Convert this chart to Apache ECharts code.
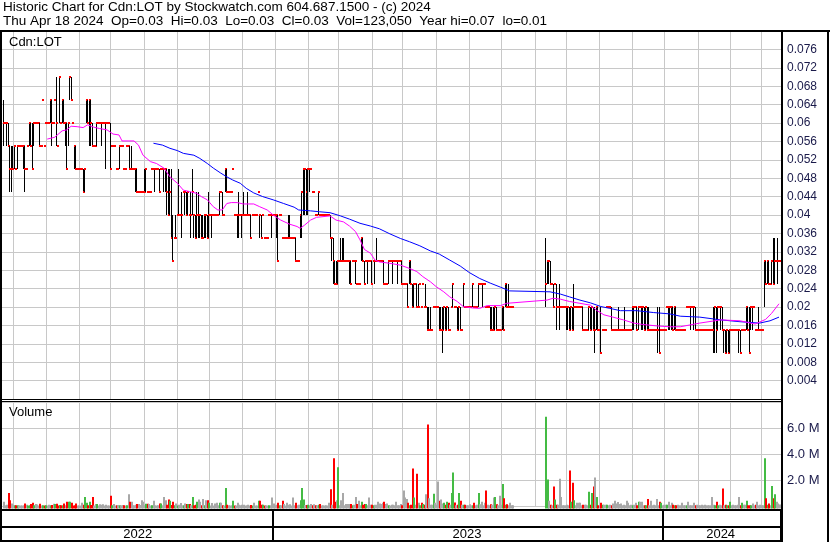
<!DOCTYPE html>
<html><head><meta charset="utf-8">
<script src="https://cdn.jsdelivr.net/npm/echarts@6/dist/echarts.min.js"></script>
<style>html,body{margin:0;padding:0;background:#fff}#c{width:830px;height:543px}</style>
</head><body><div id="c"></div>
<script>
// ---- data (one entry per weekday slot, 2022-04-25 .. 2024-04-18) ----
const firstDay = '2022-04-25';
const titleLine1 = 'Historic Chart for Cdn:LOT by Stockwatch.com 604.687.1500 - (c) 2024';
const titleLine2 = 'Thu Apr 18 2024  Op=0.03  Hi=0.03  Lo=0.03  Cl=0.03  Vol=123,050  Year hi=0.07  lo=0.01';
const symbolLabel = 'Cdn:LOT';
const volumeLabel = 'Volume';

const high = [
.065,.06,.06,.06,.055,.055,.055,.055,.05,.055,
.055,.055,.055,.055,.055,.05,.055,.06,.06,.06,
.06,.06,.06,.06,.06,.055,.065,.055,.06,.06,
.06,.065,.065,.06,.065,.07,.055,.07,.06,.065,
.065,.06,.06,.06,.07,.07,.06,.055,.055,.05,
.05,.05,.05,.05,.05,.065,.065,.065,.065,.06,
.055,.055,.06,.06,.06,.06,.06,.06,.06,.06,
.06,.06,.055,.055,.055,.05,.05,.055,.055,.055,
.05,.05,.055,.055,.055,.055,.05,.05,.05,.05,
.045,.045,.045,.045,.05,.05,.045,.045,.045,.05,
.05,.05,.05,.05,.05,.05,.05,.05,.05,.05,
.05,.05,.05,.04,.035,.04,.04,.05,.04,.045,
.045,.045,.045,.045,.04,.045,.05,.04,.04,.045,
.045,.04,.04,.04,.04,.04,.04,.045,.04,.04,
.04,.04,.04,.04,.045,.045,.045,.04,.05,.05,
.045,.045,.045,.05,.04,.04,.04,.045,.04,.04,
.045,.04,.04,.045,.04,.04,.04,.04,.04,.04,
.045,.04,.04,.04,.035,.035,.035,.04,.04,.04,
.04,.04,.04,.04,.04,.04,.035,.035,.035,.035,
.04,.04,.035,.035,.035,.035,.03,.03,.04,.045,
.05,.05,.05,.05,.05,.05,.045,.045,.04,.04,
.045,.04,.04,.04,.04,.04,.04,.04,.04,.035,
.035,.03,.03,.03,.03,.035,.035,.035,.03,.03,
.03,.03,.03,.03,.03,.03,.025,.025,.025,.035,
.035,.03,.03,.03,.03,.03,.03,.03,.03,.035,
.03,.03,.03,.03,.03,.025,.025,.03,.03,.03,
.03,.03,.03,.03,.03,.03,.03,.025,.025,.025,
.025,.03,.03,.025,.025,.025,.025,.025,.025,.02,
.025,.02,.025,.02,.02,.02,.015,.02,.02,.02,
.02,.02,.02,.02,.02,.02,.02,.02,.015,.02,
.025,.02,.02,.02,.02,.02,.015,.025,.02,.02,
.02,.02,.02,.025,.02,.02,.02,.025,.025,.025,
.025,.025,.02,.02,.02,.02,.02,.02,.02,.02,
.015,.015,.015,.02,.02,.025,.025,.025,.02,.02,
.02,
null,null,null,null,null,null,null,null,null,null,null,null,null,null,null,null,null,null,null,null,null,
.035,.03,.03,.03,.025,.025,.025,.025,
.02,.025,.02,.02,.02,.02,.02,.02,.02,.02,
.02,.025,.02,.02,.02,.02,.02,.02,.015,.015,
.015,.02,.02,.02,.02,.02,.02,.02,.015,.02,
.015,.015,.015,.02,.02,.02,.02,.015,.015,.015,
.015,.02,.015,.015,.015,.02,.015,.015,.015,.015,
.02,.02,.02,.02,.02,.02,.02,.02,.02,.02,
.02,.02,.015,.015,.015,.015,.015,.02,.02,.015,
.015,.015,.015,.02,.02,.02,.02,.02,.02,.02,
.015,.015,.015,.015,.015,.015,.02,.02,.02,.02,
.02,.02,.02,.015,.015,.015,.015,.015,.015,.015,
.015,.015,.015,.015,.02,.02,.02,.02,.02,.02,
.02,.015,.015,.015,.015,.015,.015,.015,.015,.015,
.015,.015,.015,.015,.015,.015,.02,.02,.02,.02,
.02,.02,.015,.015,.02,.015,.015,.015,.03,.03,
.03,.03,.025,.03,.035,.035,.03,.035,.03
];
const low = [
.055,.06,.055,.055,.045,.045,.05,.05,.05,.05,
.055,.055,.055,.05,.045,.05,.055,.055,.055,.05,
.055,.06,.06,.06,.055,.055,.065,.055,.06,.06,
.06,.06,.055,.06,.065,.055,.055,.06,.06,.06,
.06,.055,.05,.055,.065,.065,.06,.05,.05,.05,
.05,.05,.05,.045,.045,.06,.06,.055,.055,.055,
.055,.055,.055,.06,.06,.055,.06,.06,.05,.06,
.06,.05,.055,.055,.055,.05,.05,.05,.055,.055,
.05,.05,.055,.055,.05,.05,.05,.05,.045,.045,
.045,.045,.045,.045,.045,.045,.045,.045,.045,.05,
.05,.045,.05,.05,.045,.05,.05,.045,.045,.04,
.04,.04,.035,.03,.035,.035,.04,.04,.04,.035,
.045,.04,.04,.04,.04,.035,.04,.035,.035,.035,
.035,.035,.035,.035,.035,.035,.035,.035,.04,.035,
.04,.04,.04,.04,.04,.045,.04,.04,.045,.045,
.045,.045,.045,.05,.04,.04,.035,.035,.04,.035,
.04,.04,.04,.04,.04,.035,.04,.04,.04,.04,
.045,.035,.035,.04,.035,.035,.035,.04,.04,.035,
.04,.04,.035,.03,.04,.04,.035,.035,.035,.035,
.035,.035,.035,.035,.035,.03,.03,.03,.035,.035,
.04,.04,.04,.04,.045,.05,.045,.045,.04,.04,
.04,.04,.04,.04,.04,.04,.04,.04,.035,.03,
.025,.025,.025,.025,.03,.03,.03,.03,.03,.03,
.03,.025,.025,.03,.03,.025,.025,.025,.025,.03,
.03,.025,.03,.025,.03,.03,.025,.03,.025,.03,
.03,.03,.03,.03,.025,.025,.025,.025,.03,.03,
.025,.03,.03,.025,.03,.03,.025,.025,.025,.025,
.02,.025,.025,.02,.02,.025,.02,.02,.025,.02,
.025,.02,.02,.015,.015,.015,.015,.02,.02,.02,
.02,.015,.015,.01,.015,.015,.015,.015,.015,.02,
.02,.02,.02,.015,.015,.015,.015,.02,.02,.02,
.02,.02,.02,.02,.02,.02,.02,.02,.025,.025,
.02,.025,.02,.02,.02,.015,.015,.015,.015,.015,
.015,.015,.015,.015,.015,.02,.02,.02,.02,.02,
.02,
null,null,null,null,null,null,null,null,null,null,null,null,null,null,null,null,null,null,null,null,null,
.02,.025,.025,.025,.025,.02,.025,.015,
.02,.015,.02,.02,.02,.02,.015,.015,.015,.015,
.015,.015,.02,.02,.02,.02,.02,.015,.015,.015,
.015,.015,.015,.015,.015,.01,.015,.015,.015,.01,
.015,.015,.015,.02,.02,.02,.015,.015,.015,.015,
.015,.015,.015,.015,.015,.015,.015,.015,.015,.015,
.015,.015,.02,.015,.015,.02,.015,.015,.015,.015,
.015,.015,.015,.015,.015,.015,.015,.01,.01,.015,
.015,.015,.015,.02,.015,.015,.015,.015,.015,.015,
.015,.015,.015,.015,.015,.015,.02,.02,.02,.015,
.02,.015,.015,.015,.015,.015,.015,.015,.015,.015,
.015,.015,.015,.015,.01,.01,.01,.015,.02,.015,
.015,.01,.01,.01,.01,.01,.015,.015,.015,.015,
.015,.01,.01,.015,.015,.015,.015,.015,.01,.015,
.015,.02,.015,.015,.015,.015,.015,.015,.02,.025,
.025,.025,.025,.025,.025,.025,.03,.025,.03
];
const close = [
.06,.06,.06,.055,.05,.05,.05,.055,.05,.055,
.055,.055,.055,.055,.05,.05,.055,.06,.055,.05,
.06,.06,.06,.06,.055,.055,.065,.055,.06,.06,
.06,.065,.06,.06,.065,.06,.055,.07,.06,.065,
.06,.06,.05,.06,.07,.065,.06,.055,.05,.05,
.05,.05,.05,.045,.05,.065,.06,.065,.06,.055,
.055,.055,.06,.06,.06,.06,.06,.06,.06,.06,
.06,.05,.055,.055,.055,.05,.05,.055,.055,.055,
.05,.05,.055,.055,.05,.05,.05,.05,.05,.045,
.045,.045,.045,.045,.045,.05,.045,.045,.045,.05,
.05,.05,.05,.05,.045,.05,.05,.05,.05,.045,
.04,.045,.035,.03,.035,.035,.04,.04,.04,.04,
.045,.045,.04,.045,.04,.04,.045,.04,.035,.04,
.04,.04,.035,.035,.04,.04,.035,.04,.04,.04,
.04,.04,.04,.04,.045,.045,.04,.04,.05,.045,
.045,.045,.045,.05,.04,.04,.04,.04,.04,.04,
.04,.04,.04,.04,.04,.035,.04,.04,.04,.04,
.045,.04,.035,.04,.035,.035,.035,.04,.04,.04,
.04,.04,.04,.03,.04,.04,.035,.035,.035,.035,
.035,.035,.035,.035,.035,.03,.03,.03,.04,.045,
.05,.05,.045,.05,.05,.05,.045,.045,.04,.04,
.045,.04,.04,.04,.04,.04,.04,.04,.035,.035,
.03,.025,.025,.03,.03,.03,.03,.03,.03,.03,
.03,.03,.025,.03,.03,.03,.025,.025,.025,.035,
.03,.025,.03,.03,.03,.03,.025,.03,.03,.03,
.03,.03,.03,.03,.025,.025,.025,.03,.03,.03,
.03,.03,.03,.03,.03,.03,.025,.025,.025,.025,
.02,.03,.025,.02,.025,.025,.02,.02,.025,.02,
.025,.02,.02,.015,.015,.015,.015,.02,.02,.02,
.02,.015,.015,.015,.02,.015,.02,.015,.015,.02,
.025,.02,.02,.015,.02,.015,.015,.025,.02,.02,
.02,.02,.02,.025,.02,.02,.02,.025,.025,.025,
.025,.025,.02,.02,.02,.015,.015,.015,.02,.015,
.015,.015,.015,.02,.015,.025,.02,.02,.02,.02,
.02,
null,null,null,null,null,null,null,null,null,null,null,null,null,null,null,null,null,null,null,null,null,
.025,.03,.03,.025,.025,.02,.025,.02,
.02,.02,.02,.02,.02,.02,.02,.02,.015,.02,
.015,.02,.02,.02,.02,.02,.02,.015,.015,.015,
.015,.02,.015,.02,.015,.015,.02,.015,.015,.01,
.015,.015,.015,.02,.02,.02,.015,.015,.015,.015,
.015,.015,.015,.015,.015,.015,.015,.015,.015,.015,
.02,.02,.02,.015,.02,.02,.02,.02,.015,.02,
.015,.015,.015,.015,.015,.015,.015,.015,.01,.015,
.015,.015,.015,.02,.02,.02,.02,.015,.02,.015,
.015,.015,.015,.015,.015,.015,.02,.02,.02,.02,
.02,.02,.015,.015,.015,.015,.015,.015,.015,.015,
.015,.015,.015,.015,.015,.02,.015,.02,.02,.02,
.015,.015,.01,.015,.01,.015,.015,.015,.015,.015,
.015,.015,.01,.015,.015,.015,.02,.015,.01,.02,
.02,.02,.015,.015,.015,.015,.015,.015,.03,.025,
.03,.025,.025,.03,.025,.03,.03,.03,.03
];
// volume in millions of shares
const volume = [
.33,.05,.1,1.0,.45,.2,.1,.05,.05,.05,
.05,.03,.03,.05,.2,.1,.03,.05,.15,.25,
.05,.15,.12,.03,.18,.03,.05,.03,.05,.03,
.1,.05,.08,.18,.15,.18,.03,.08,.05,.05,
.2,.05,.33,.33,.33,.25,.03,.05,.2,.03,
.03,.03,.25,.1,.7,.25,.05,.33,.08,.7,
.03,.15,.15,.03,.13,.1,.13,.03,.1,.03,
.03,.8,.05,.15,.03,.05,.08,.05,.05,.08,
.05,.03,.05,.9,.33,.33,.03,.05,.1,.15,
.15,.08,.45,.33,.05,.18,.18,.15,.03,.05,
.4,.05,.03,.05,.2,.2,.05,.7,.45,.1,
.5,.4,.08,.33,.05,.2,.03,.1,.23,.05,
.05,.2,.15,.15,.15,.05,.7,.05,.1,.33,
.5,.33,.05,.55,.05,.45,.45,.25,.03,.23,
.03,.2,.25,.05,.25,.25,.05,.03,1.4,.1,
.05,.03,.05,.4,.03,.03,.25,.1,.05,.1,
.1,.03,.05,.1,.03,.08,.03,.25,.03,.03,
.4,.4,.1,.1,.03,.05,.03,.05,.05,.65,
.2,.05,.1,.25,.05,.05,.4,.15,.03,.25,
.1,.13,.03,.65,.05,.25,.05,.1,.45,1.4,
.5,.08,.08,.1,.05,.15,.05,.13,.05,.05,
.1,.15,.03,.05,.03,.05,.03,.25,1.3,.1,
3.7,.33,.45,3.0,.05,.45,1.0,.05,.15,.15,
.15,.15,.15,.05,.1,.7,.15,.4,.05,.33,
.1,.15,.15,.05,.65,.1,.1,.05,.1,.1,
.33,.2,.15,.25,.33,.15,.2,.05,.03,.1,
.1,.05,.33,.05,.05,.15,.05,1.2,.65,.55,
.25,.05,.1,2.9,.65,.1,2.5,.25,.05,.25,
.15,.1,.9,6.3,.6,.1,.1,.95,.25,.1,
1.9,.4,.5,.2,.25,.1,.33,.25,.1,1.0,
2.6,.28,.05,.1,1.0,.4,.1,.1,.1,.05,
.05,.13,.05,.05,.25,.05,.1,1.0,.13,.33,
.05,.25,1.2,.1,.05,.13,.1,.65,.7,.13,
.05,.8,.1,1.7,.6,.1,.13,.05,.25,.05,
.05,
null,null,null,null,null,null,null,null,null,null,null,null,null,null,null,null,null,null,null,null,null,
6.9,2.05,.4,.1,.05,1.5,.5,.1,
.1,2.1,.7,.05,.05,.05,.1,.05,2.75,.33,
1.8,.45,.05,.25,.25,.25,.05,.1,.1,.1,
.05,1.1,.1,1.0,1.5,2.2,.7,.05,.05,.25,
.1,.1,.1,.1,.05,.1,.05,.2,.4,.2,
.3,.15,.2,.05,.1,.05,.4,.25,.05,.1,
.05,.1,.25,.05,.33,.33,.33,.05,.05,.05,
.55,.05,.4,.05,.1,.05,.55,.05,.33,.25,
.05,.1,.1,.1,.33,.05,.25,.1,.05,.05,
.1,.05,.05,.25,.05,.05,.05,.33,.05,.05,
.05,.25,.05,.1,.05,.05,.1,.05,.1,.05,
.05,.05,.05,.7,.1,.05,.33,.05,.1,.05,
1.35,.05,.1,.05,.05,.33,.05,.1,.05,.05,
.1,.7,.05,.25,.1,.1,.4,.05,.05,.05,
.2,.05,.1,.33,.05,.1,.05,.05,3.7,.6,
.1,.2,.05,1.55,.6,.9,.33,.2,.123
];
// moving averages: [slot, value]
const maShort = [[29,.0565],[34,.0569],[39,.0583],[42,.0585],[45,.0593],[49,.0592],[53,.0590],[56,.0596],[60,.0591],[64,.0588],[69,.0585],[73,.0576],[77,.0574],[79,.0561],[87,.0561],[90,.0552],[93,.0530],[98,.0516],[102,.0512],[107,.0502],[111,.0483],[116,.0469],[120,.0454],[124,.0451],[129,.0447],[132,.0440],[136,.0433],[140,.0418],[143,.0411],[146,.0411],[149,.0425],[152,.0427],[156,.0427],[160,.0424],[167,.0424],[171,.0418],[176,.0411],[180,.0400],[185,.0389],[191,.0380],[196,.0375],[198,.0371],[201,.0378],[205,.0389],[209,.0395],[218,.0398],[222,.0389],[227,.0385],[231,.0376],[235,.0364],[238,.0346],[241,.0325],[245,.0317],[248,.0302],[251,.0298],[258,.0295],[265,.0291],[271,.0284],[276,.0277],[280,.0266],[285,.0255],[289,.0244],[294,.0233],[298,.0222],[303,.0212],[307,.0201],[313,.0198],[318,.0197],[323,.0203],[332,.0203],[336,.0208],[363,.0215],[367,.0219],[372,.0217],[378,.0212],[385,.0208],[392,.0204],[396,.0193],[401,.0183],[407,.0178],[414,.0172],[421,.0165],[427,.0162],[436,.0159],[445,.0157],[452,.0157],[465,.0165],[479,.0172],[492,.0170],[502,.0163],[509,.0173],[513,.0186],[518,.0207]];
const maLong = [[100,.0556],[106,.0552],[111,.0545],[116,.0540],[120,.0534],[127,.0530],[131,.0523],[136,.0512],[140,.0502],[145,.0491],[149,.0483],[153,.0476],[158,.0469],[162,.0458],[167,.0448],[173,.0440],[180,.0433],[187,.0425],[194,.0417],[197,.0411],[205,.0409],[211,.0407],[218,.0405],[225,.0398],[231,.0391],[238,.0382],[245,.0376],[251,.0370],[258,.0359],[265,.0349],[271,.0342],[278,.0333],[285,.0322],[291,.0315],[298,.0302],[305,.0289],[311,.0275],[318,.0262],[325,.0252],[332,.0243],[338,.0235],[365,.0233],[372,.0228],[378,.0222],[385,.0215],[392,.0209],[399,.0201],[405,.0197],[412,.0192],[423,.0192],[434,.0188],[445,.0185],[452,.0180],[465,.0178],[479,.0172],[492,.0168],[505,.0165],[512,.0170],[518,.0178]];
const priceTicks = {min: 0, max: 0.08, step: 0.004};
const volumeTicks = {min: 0, max: 8, step: 2};

// ---- derived structures ----
const dates = [];
{ const d = new Date(firstDay + 'T00:00:00Z');
  while (dates.length < high.length) { const w = d.getUTCDay(); if (w !== 0 && w !== 6) dates.push(new Date(d)); d.setUTCDate(d.getUTCDate() + 1); } }
const monthStarts = [], years = [];
dates.forEach((d, i) => {
  if (i > 0 && d.getUTCMonth() !== dates[i - 1].getUTCMonth()) monthStarts.push(i);
  if (i === 0 || d.getUTCFullYear() !== dates[i - 1].getUTCFullYear()) years.push({start: i, label: String(d.getUTCFullYear())});
});
const yearData = years.map((y, k) => [y.start - 0.5, (k < years.length - 1 ? years[k + 1].start : dates.length) - 0.5, y.label]);
const bars = [], vols = [];
let prevClose = null;
for (let i = 0; i < high.length; i++) {
  if (high[i] == null) continue;
  bars.push([i, high[i], low[i], close[i]]);
  const dir = prevClose == null ? 0 : Math.sign(close[i] - prevClose);
  vols.push([i, volume[i], dir]);
  prevClose = close[i];
}

const XMIN = -1.2, XMAX = 520;
const GRID = '#c8c8c8', LABEL = '#1a1a4a';
const FONT = '"Liberation Sans", Arial, sans-serif';

function renderBar(params, api) {
  const i = api.value(0), h = api.value(1), l = api.value(2), c = api.value(3);
  const pH = api.coord([i, h]), pL = api.coord([i, l]), pC = api.coord([i, c]);
  const x = Math.floor(pH[0]);
  const ch = [];
  const y0 = Math.round(pH[1]), y1 = Math.round(pL[1]);
  if (y1 - y0 > 0) ch.push({type: 'rect', shape: {x: x, y: y0, width: 1, height: y1 - y0}, style: {fill: '#000'}});
  ch.push({type: 'rect', shape: {x: x, y: Math.round(pC[1]) - 1, width: 2, height: 2}, style: {fill: '#ff0000'}});
  return {type: 'group', children: ch};
}
function renderVol(params, api) {
  const i = api.value(0), v = api.value(1), dir = api.value(2);
  const p0 = api.coord([i, 0]), pv = api.coord([i, v]);
  const x = Math.floor(p0[0]);
  const base = p0[1] + 2.5;
  return {type: 'rect', shape: {x: x, y: pv[1], width: 2, height: base - pv[1]},
    style: {fill: dir > 0 ? '#44bb44' : (dir < 0 ? '#ff0000' : '#a8a8a8')}};
}
function renderVGrid(params, api) {
  const cs = params.coordSys;
  const x = Math.round(api.coord([api.value(0) + 1, 0])[0]);
  return {type: 'rect', shape: {x: x, y: cs.y, width: 1, height: cs.height}, style: {fill: GRID}, silent: true};
}
function renderYears(params, api) {
  const cs = params.coordSys;
  const a = api.coord([api.value(0), 0])[0], b = api.coord([api.value(1), 0])[0];
  const x0 = Math.max(a, cs.x), x1 = Math.min(b, cs.x + cs.width);
  const ch = [{type: 'text', style: {text: api.value(2), x: (x0 + x1) / 2, y: cs.y + 24, align: 'center', verticalAlign: 'middle', font: '13px ' + FONT, fill: '#000'}}];
  if (b < cs.x + cs.width - 1) ch.push({type: 'rect', shape: {x: Math.round(b), y: cs.y, width: 2, height: cs.height}, style: {fill: '#000'}});
  return {type: 'group', children: ch};
}

const chart = echarts.init(document.getElementById('c'), null, {renderer: 'canvas'});
const xAx = (gi) => ({type: 'value', gridIndex: gi, min: XMIN, max: XMAX, show: false});
chart.setOption({
  animation: false,
  backgroundColor: '#fff',
  grid: [
    {left: 2, right: 48, top: 31, height: 368, outerBoundsMode: 'none'},
    {left: 2, right: 48, top: 402.6, height: 103.4, outerBoundsMode: 'none'},
    {left: 2, right: 48, top: 510, height: 31, outerBoundsMode: 'none'}
  ],
  xAxis: [xAx(0), xAx(1), xAx(2)],
  yAxis: [
    {type: 'value', gridIndex: 0, position: 'right', min: priceTicks.min, max: priceTicks.max, interval: priceTicks.step,
     axisLine: {show: false}, axisTick: {show: false},
     axisLabel: {margin: 5, color: LABEL, fontSize: 12, fontFamily: FONT,
       formatter: v => (v <= 0.0001 || v >= priceTicks.max - 0.0001) ? '' : String(+v.toFixed(3))},
     splitLine: {lineStyle: {color: GRID, width: 1}}},
    {type: 'value', gridIndex: 1, position: 'right', min: volumeTicks.min, max: volumeTicks.max, interval: volumeTicks.step,
     axisLine: {show: false}, axisTick: {show: false},
     axisLabel: {margin: 5, color: LABEL, fontSize: 13, fontFamily: FONT,
       formatter: v => (v <= 0 || v >= volumeTicks.max) ? '' : v.toFixed(1) + ' M'},
     splitLine: {lineStyle: {color: GRID, width: 1}}},
    {type: 'value', gridIndex: 2, min: 0, max: 1, show: false}
  ],
  series: [
    {type: 'custom', name: 'mgrid0', xAxisIndex: 0, yAxisIndex: 0, data: monthStarts, renderItem: renderVGrid, z: 1, silent: true},
    {type: 'custom', name: 'mgrid1', xAxisIndex: 1, yAxisIndex: 1, data: monthStarts, renderItem: renderVGrid, z: 1, silent: true},
    {type: 'custom', name: 'price', xAxisIndex: 0, yAxisIndex: 0, data: bars, renderItem: renderBar, z: 3, clip: true},
    {type: 'line', name: 'maLong', xAxisIndex: 0, yAxisIndex: 0, data: maLong, showSymbol: false, symbol: 'none',
     lineStyle: {color: '#0000ff', width: 1}, z: 4, silent: true},
    {type: 'line', name: 'maShort', xAxisIndex: 0, yAxisIndex: 0, data: maShort, showSymbol: false, symbol: 'none',
     lineStyle: {color: '#ff00ff', width: 1}, z: 5, silent: true},
    {type: 'custom', name: 'volume', xAxisIndex: 1, yAxisIndex: 1, data: vols, renderItem: renderVol, z: 3},
    {type: 'custom', name: 'years', xAxisIndex: 2, yAxisIndex: 2, data: yearData, renderItem: renderYears, z: 3}
  ],
  graphic: [
    {type: 'text', left: 3, top: 0, style: {text: titleLine1, font: '13.5px ' + FONT, fill: '#000'}},
    {type: 'text', left: 3, top: 14, style: {text: titleLine2, font: '13.5px ' + FONT, fill: '#000'}},
    {type: 'text', left: 9, top: 36, z: 10, style: {text: symbolLabel, font: '13px ' + FONT, fill: '#000'}},
    {type: 'text', left: 9, top: 406, z: 10, style: {text: volumeLabel, font: '13px ' + FONT, fill: '#000'}},
    // frame
    {type: 'rect', z: 20, shape: {x: 0, y: 30, width: 830, height: 2}, style: {fill: '#000'}},
    {type: 'rect', z: 20, shape: {x: 0, y: 30, width: 2, height: 512}, style: {fill: '#000'}},
    {type: 'rect', z: 20, shape: {x: 781, y: 30, width: 2, height: 512}, style: {fill: '#000'}},
    {type: 'rect', z: 20, shape: {x: 827, y: 30, width: 2, height: 512}, style: {fill: '#000'}},
    {type: 'rect', z: 20, shape: {x: 0, y: 399, width: 782, height: 1}, style: {fill: '#000'}},
    {type: 'rect', z: 20, shape: {x: 0, y: 401, width: 782, height: 1}, style: {fill: '#000'}},
    {type: 'rect', z: 20, shape: {x: 0, y: 509, width: 782, height: 2}, style: {fill: '#000'}},
    {type: 'rect', z: 20, shape: {x: 0, y: 526, width: 782, height: 2}, style: {fill: '#000'}},
    {type: 'rect', z: 20, shape: {x: 0, y: 540, width: 782, height: 2}, style: {fill: '#000'}}
  ]
});
</script></body></html>
